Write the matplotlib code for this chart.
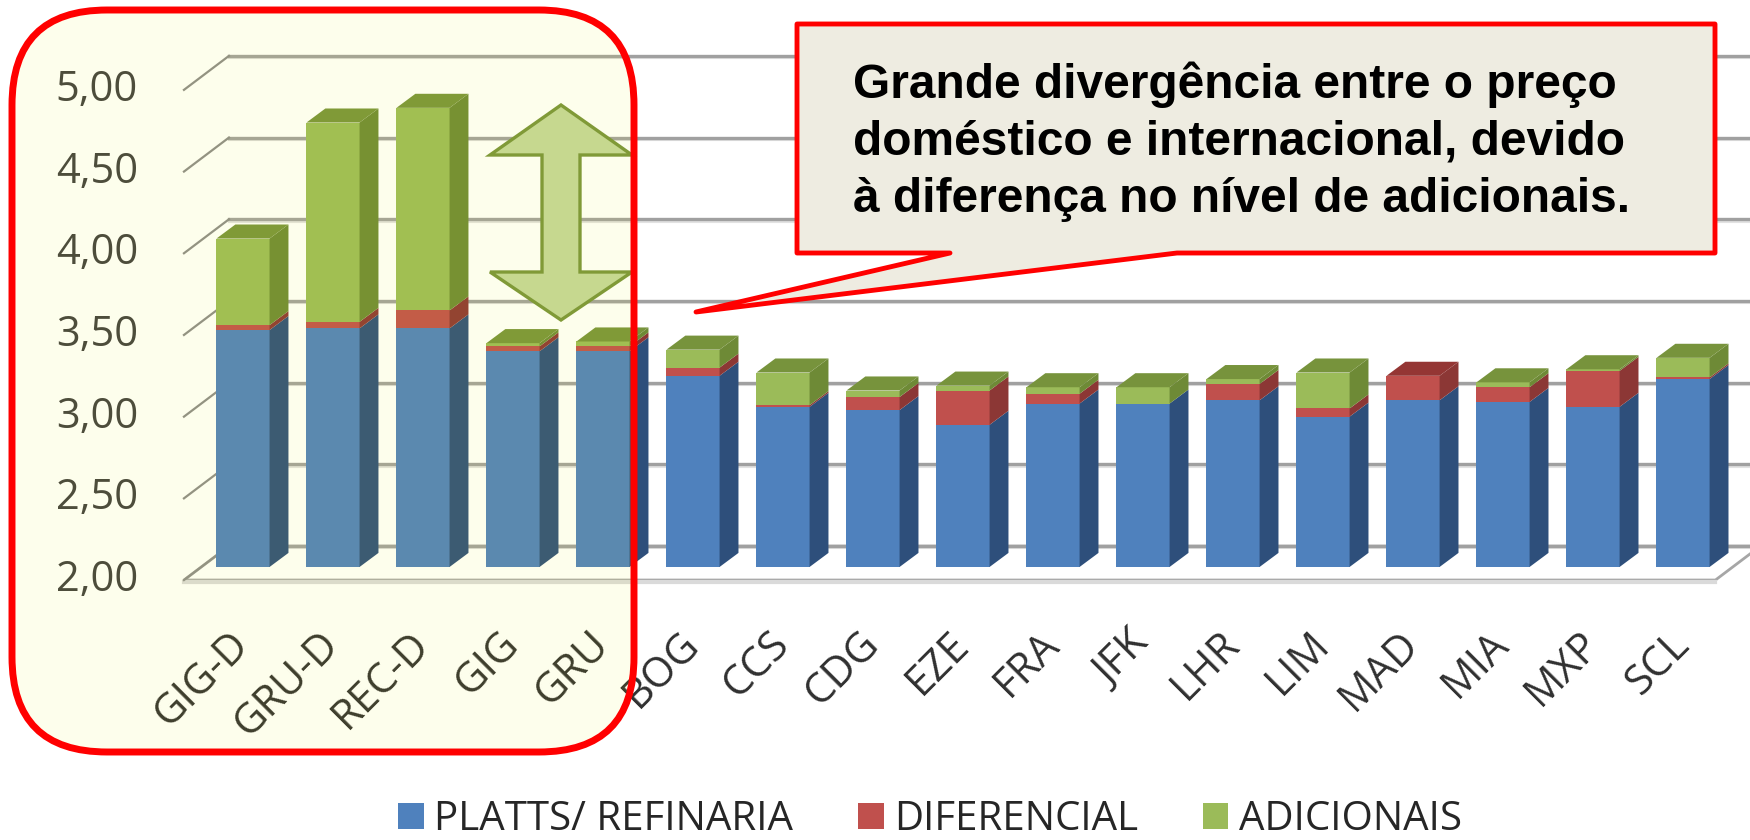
import matplotlib.pyplot as plt
from matplotlib.patches import FancyBboxPatch, Polygon

cats = ['GIG-D', 'GRU-D', 'REC-D', 'GIG', 'GRU', 'BOG', 'CCS', 'CDG', 'EZE',
        'FRA', 'JFK', 'LHR', 'LIM', 'MAD', 'MIA', 'MXP', 'SCL']
platts = [3.45, 3.46, 3.46, 3.32, 3.32, 3.17, 2.98, 2.96, 2.87,
          3.00, 3.00, 3.02, 2.92, 3.02, 3.01, 2.98, 3.15]
diferencial = [0.03, 0.04, 0.11, 0.03, 0.03, 0.05, 0.01, 0.08, 0.21,
               0.06, 0.00, 0.10, 0.05, 0.15, 0.09, 0.22, 0.01]
adicionais = [0.53, 1.22, 1.24, 0.02, 0.03, 0.11, 0.20, 0.04, 0.03,
              0.04, 0.10, 0.03, 0.22, 0.00, 0.03, 0.01, 0.12]
series_names = ['PLATTS/ REFINARIA', 'DIFERENCIAL', 'ADICIONAIS']
yticks = [2.0, 2.5, 3.0, 3.5, 4.0, 4.5, 5.0]
note = ['Grande divergência entre o preço',
        'doméstico e internacional, devido',
        'à diferença no nível de adicionais.']

front = ['#4F81BD', '#C0504D', '#9BBB59']
side = ['#2E4F7B', '#8C3735', '#6E8A36']
top = ['#3D669A', '#943634', '#77933C']

FONT = ['Open Sans', 'DejaVu Sans']
BAR_W = 0.59
DEP_DX, DEP_DY = 0.21, 0.086      # bar depth (3d look)
FR_DX, FR_DY = -0.19, -0.08       # front plane vs bar face
BK_DX, BK_DY = 0.31, 0.128        # back wall vs bar face
FLOOR_L, FLOOR_R = -0.656, 16.36

fig = plt.figure(figsize=(17.5, 8.4), dpi=100)
ax = fig.add_axes([0, 0, 1, 1])
ax.set_xlim(-2.7, 16.744)
ax.set_ylim(0.329, 5.470)
ax.axis('off')

# walls / floor
base = yticks[0]
floor = Polygon([(FLOOR_L, base + FR_DY), (FLOOR_R, base + FR_DY),
                 (FLOOR_R + 0.5, base + BK_DY), (FLOOR_L + 0.5, base + BK_DY)],
                closed=True, facecolor='white', edgecolor='#A6A6A6', lw=2, zorder=1)
ax.add_patch(floor)
ax.plot([FLOOR_L, FLOOR_R], [base + FR_DY - 0.012] * 2, color='#DADADA', lw=3, zorder=1)
for v in yticks:
    ax.plot([FLOOR_L + 0.5, 17.5], [v + BK_DY] * 2, color='#A0A0A0', lw=2.4, zorder=1.5)
    ax.plot([FLOOR_L + 0.5, 17.5], [v + BK_DY - 0.014] * 2, color='#E2E2E2', lw=1.5, zorder=1.4)
    ax.plot([FLOOR_L, FLOOR_L + 0.5], [v + FR_DY, v + BK_DY], color='#8C8C8C', lw=1.6, zorder=1.5)
    ax.text(-1.167, v + FR_DY, f'{v:.2f}'.replace('.', ','), ha='right', va='center',
            fontsize=30, family=FONT, color='#404040')

# stacked bars, platts starts from the axis floor (2,00)
x = list(range(len(cats)))
heights = [[v - base for v in platts], diferencial, adicionais]
bottoms = [base] * len(cats)
containers = []
tops = [None] * len(cats)
for k, h in enumerate(heights):
    bc = ax.bar(x, h, bottom=bottoms, width=BAR_W, color=front[k], zorder=3,
                label=series_names[k])
    containers.append(bc)
    for i, r in enumerate(bc.patches):
        x1 = r.get_x() + r.get_width()
        y0, y1 = r.get_y(), r.get_y() + r.get_height()
        if r.get_height() > 0:
            ax.fill([x1, x1 + DEP_DX, x1 + DEP_DX, x1], [y0, y0 + DEP_DY, y1 + DEP_DY, y1],
                    color=side[k], zorder=3, lw=0)
            tops[i] = (r, k)
    bottoms = [b + hh for b, hh in zip(bottoms, h)]

for r, k in tops:
    x0, x1 = r.get_x(), r.get_x() + r.get_width()
    y1 = r.get_y() + r.get_height()
    ax.fill([x0, x1, x1 + DEP_DX, x0 + DEP_DX], [y1, y1, y1 + DEP_DY, y1 + DEP_DY],
            color=top[k], zorder=3, lw=0)

for i, c in enumerate(cats):
    ax.text(i, 1.565, c, rotation=45, rotation_mode='anchor', ha='right', va='center',
            fontsize=30, family=FONT, color='#303030')

fig.legend(handles=containers, labels=series_names, loc='center',
           bbox_to_anchor=(930 / 1750, 1 - 820 / 840), ncol=3, frameon=False,
           prop={'family': FONT, 'size': 29}, handlelength=0.64, handleheight=0.6,
           handletextpad=0.26, columnspacing=1.6, labelcolor='#262626')

# annotation layer, in pixels
ov = fig.add_axes([0, 0, 1, 1], zorder=5)
ov.set_xlim(0, 1750)
ov.set_ylim(840, 0)
ov.axis('off')

arrow = Polygon([(561, 105), (632, 155), (580, 155), (580, 272), (632, 272), (561, 320),
                 (490, 272), (542, 272), (542, 155), (490, 155)], closed=True,
                facecolor='#C3D69B', edgecolor='#77933C', lw=2.4)
ov.add_patch(arrow)

ov.add_patch(FancyBboxPatch((12, 10), 622, 742, boxstyle='round,pad=0,rounding_size=95',
                            facecolor=(0.945, 0.95, 0.02, 0.075), edgecolor='none'))
ov.add_patch(FancyBboxPatch((12, 10), 622, 742, boxstyle='round,pad=0,rounding_size=95',
                            facecolor='none', edgecolor='#FF0000', lw=5))

callout = Polygon([(797, 24), (1715, 24), (1715, 253), (1177, 253), (696, 312),
                   (950, 253), (797, 253)], closed=True, facecolor='#EEECE1',
                  edgecolor='#FF0000', lw=3.5, joinstyle='round')
ov.add_patch(callout)
for line, yb in zip(note, [98, 154, 212]):
    ov.text(853, yb, line, ha='left', va='baseline', fontsize=34.5, fontweight='bold',
            family=['Liberation Sans', 'DejaVu Sans'], color='black')

fig.savefig('out.png', dpi=100)
